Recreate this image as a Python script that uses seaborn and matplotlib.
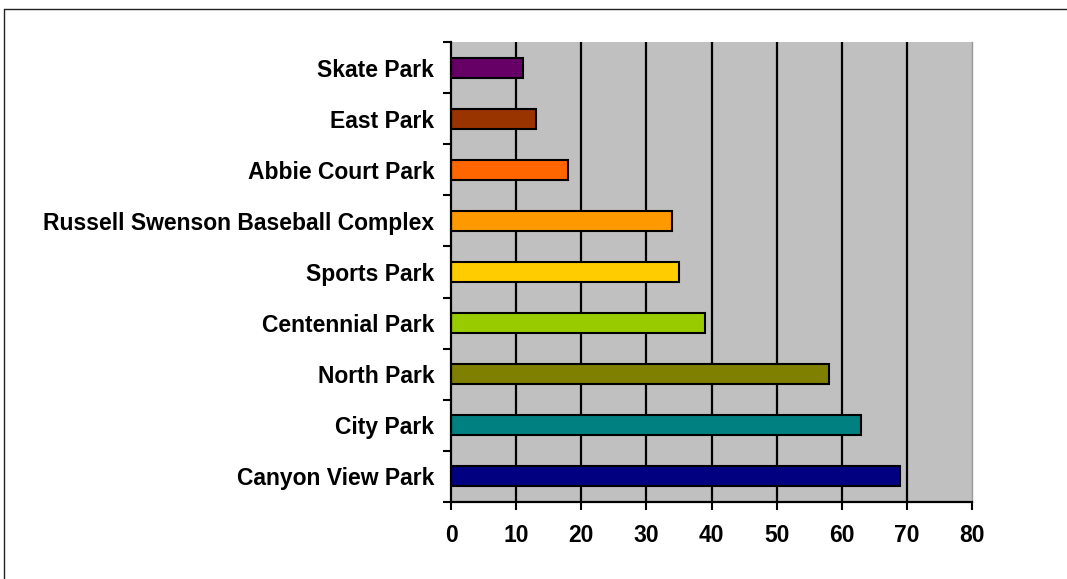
import matplotlib
matplotlib.use("Agg")
import matplotlib.pyplot as plt
import seaborn as sns
import pandas as pd
from matplotlib.lines import Line2D

categories = ["Skate Park", "East Park", "Abbie Court Park",
              "Russell Swenson Baseball Complex", "Sports Park",
              "Centennial Park", "North Park", "City Park", "Canyon View Park"]
values = [11, 13, 18, 34, 35, 39, 58, 63, 69]
colors = ["#660066", "#993300", "#FF6600", "#FF9900", "#FFCC00",
          "#99CC00", "#808000", "#008080", "#000080"]
xticks = [0, 10, 20, 30, 40, 50, 60, 70, 80]

sns.set_style("white")
plt.rcParams["font.family"] = ["Liberation Sans", "DejaVu Sans"]
plt.rcParams["text.color"] = "black"
plt.rcParams["xtick.color"] = "black"
plt.rcParams["ytick.color"] = "black"

df = pd.DataFrame({"park": categories, "value": values})

fig = plt.figure(figsize=(10.67, 5.79), dpi=100)
ax = fig.add_axes([451/1067, 1-502/579, (972-451)/1067, (502-42)/579])
ax.set_facecolor("#C0C0C0")

for t in xticks[1:-1]:
    ax.axvline(t, color="black", lw=1.6, zorder=0.5)

sns.barplot(data=df, x="value", y="park", hue="park", palette=colors,
            order=categories, hue_order=categories, orient="h",
            width=0.39, edgecolor="black", linewidth=1.5, legend=False,
            saturation=1, ax=ax, zorder=2)

ax.set_xlim(0, 80)
ax.set_ylim(len(categories) - 0.5, -0.5)
ax.set_xticks(xticks)
ax.set_xlabel("")
ax.set_ylabel("")

# Excel-style category ticks at boundaries
ax.set_yticks([i + 0.5 for i in range(-1, len(categories))], minor=True)
ax.tick_params(axis="y", which="minor", length=6, width=1.5, color="black", left=True)
ax.tick_params(axis="y", which="major", length=0, pad=12, labelsize=16.5,
               labelcolor="black")
ax.tick_params(axis="x", which="major", length=6, width=1.5, color="black",
               bottom=True, pad=10, labelsize=16.5, labelcolor="black")
for lab in ax.get_yticklabels() + ax.get_xticklabels():
    lab.set_fontweight("bold")

ax.spines["left"].set_linewidth(1.6)
ax.spines["left"].set_color("black")
ax.spines["bottom"].set_linewidth(1.6)
ax.spines["bottom"].set_color("black")
ax.spines["top"].set_visible(False)
ax.spines["right"].set_color("#999999")
ax.spines["right"].set_linewidth(1.0)

# outer chart frame
fx = 3.5/1067
fy = 1 - 8.5/579
fig.add_artist(Line2D([fx, 1], [fy, fy], color="#222222", lw=1.0, transform=fig.transFigure))
fig.add_artist(Line2D([fx, fx], [0, fy], color="#222222", lw=1.0, transform=fig.transFigure))

fig.savefig("out.png", dpi=100, facecolor="white")
